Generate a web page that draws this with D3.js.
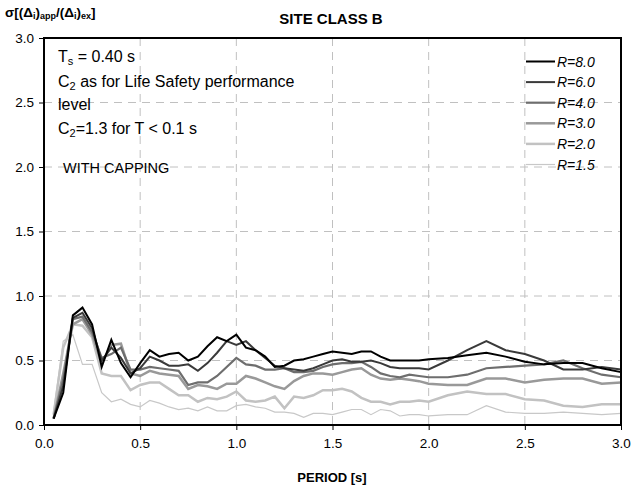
<!DOCTYPE html>
<html><head><meta charset="utf-8">
<script src="https://cdn.jsdelivr.net/npm/d3@7"></script>
<style>body{margin:0;background:#fff}svg{font-family:"Liberation Sans",Arial,sans-serif}</style>
</head><body><svg id="c" width="642" height="493"></svg>
<script>
const periods = [0.05,0.1,0.15,0.2,0.25,0.3,0.35,0.4,0.45,0.5,0.55,0.6,0.65,0.7,0.75,0.8,0.85,0.9,0.95,1.0,
1.05,1.1,1.15,1.2,1.25,1.3,1.35,1.4,1.45,1.5,1.55,1.6,1.65,1.7,1.75,1.8,1.85,1.9,1.95,2.0,
2.1,2.2,2.3,2.4,2.5,2.6,2.7,2.8,2.9,3.0];
const seriesNames = ["R=8.0","R=6.0","R=4.0","R=3.0","R=2.0","R=1.5"];
const r80 = [0.05,0.25,0.85,0.91,0.78,0.45,0.66,0.48,0.37,0.48,0.58,0.53,0.55,0.56,0.50,0.53,0.61,0.68,0.65,0.70,
0.60,0.58,0.53,0.45,0.46,0.50,0.51,0.53,0.55,0.57,0.56,0.55,0.57,0.57,0.53,0.50,0.50,0.50,0.50,0.51,
0.52,0.54,0.56,0.53,0.49,0.47,0.48,0.48,0.44,0.41];
const r60 = [0.05,0.30,0.83,0.87,0.75,0.50,0.60,0.52,0.40,0.44,0.53,0.50,0.46,0.46,0.47,0.42,0.48,0.56,0.65,0.62,
0.65,0.58,0.52,0.46,0.44,0.43,0.42,0.44,0.47,0.50,0.51,0.49,0.49,0.50,0.48,0.45,0.44,0.44,0.44,0.43,
0.50,0.58,0.65,0.58,0.55,0.50,0.43,0.43,0.45,0.43];
const r40 = [0.05,0.35,0.82,0.84,0.72,0.52,0.55,0.60,0.43,0.43,0.45,0.44,0.43,0.42,0.31,0.33,0.33,0.38,0.45,0.52,
0.47,0.46,0.43,0.43,0.44,0.41,0.41,0.42,0.45,0.47,0.48,0.48,0.49,0.45,0.40,0.38,0.37,0.39,0.38,0.37,
0.37,0.39,0.44,0.45,0.46,0.47,0.50,0.44,0.39,0.37];
const r30 = [0.05,0.40,0.78,0.82,0.70,0.48,0.62,0.63,0.40,0.38,0.42,0.40,0.39,0.38,0.28,0.31,0.30,0.28,0.32,0.32,
0.38,0.36,0.33,0.30,0.28,0.34,0.38,0.40,0.40,0.39,0.41,0.43,0.44,0.39,0.36,0.35,0.36,0.35,0.34,0.32,
0.31,0.31,0.36,0.36,0.33,0.35,0.36,0.36,0.32,0.33];
const r20 = [0.08,0.60,0.78,0.77,0.68,0.40,0.38,0.38,0.27,0.31,0.33,0.33,0.28,0.23,0.23,0.18,0.21,0.20,0.22,0.26,
0.19,0.18,0.19,0.22,0.13,0.22,0.21,0.23,0.27,0.27,0.28,0.26,0.21,0.18,0.18,0.16,0.18,0.18,0.19,0.18,
0.23,0.26,0.24,0.24,0.20,0.19,0.15,0.14,0.16,0.16];
const r15 = [0.10,0.65,0.70,0.47,0.47,0.25,0.18,0.20,0.16,0.14,0.19,0.17,0.14,0.12,0.13,0.11,0.14,0.11,0.11,0.15,
0.16,0.14,0.13,0.10,0.10,0.09,0.06,0.09,0.09,0.08,0.10,0.12,0.12,0.08,0.12,0.11,0.07,0.08,0.08,0.07,
0.08,0.08,0.15,0.10,0.09,0.09,0.10,0.09,0.08,0.09];
const xTicks = [0,0.5,1.0,1.5,2.0,2.5,3.0];
const yTicks = [0,0.5,1.0,1.5,2.0,2.5,3.0];
const annotations = ["C\u2082 as for Life Safety performance","level","C\u2082=1.3 for T < 0.1 s"];

const allSeries = [r80,r60,r40,r30,r20,r15];
const colors = ["#000000","#3a3a3a","#6e6e6e","#999999","#c2c2c2","#c8c8c8"];
const widths = [2,2,2.2,2.5,2.5,1.2];

const svg = d3.select("#c");
const L=44,R=621,T=38,B=425;
const x = d3.scaleLinear().domain([0,3]).range([L,R]);
const y = d3.scaleLinear().domain([0,3]).range([B,T]);

// grid
const g = svg.append("g");
g.selectAll(".vg").data(xTicks.slice(1,-1)).join("line")
 .attr("x1",d=>x(d)).attr("x2",d=>x(d)).attr("y1",T).attr("y2",B)
 .attr("stroke","#c0c0c0").attr("stroke-dasharray","8,6").attr("stroke-width",1);
g.selectAll(".hg").data(yTicks.slice(1,-1)).join("line")
 .attr("y1",d=>y(d)).attr("y2",d=>y(d)).attr("x1",L).attr("x2",R)
 .attr("stroke","#c0c0c0").attr("stroke-dasharray","8,6").attr("stroke-width",1);

// axes
const xa = svg.append("g").attr("transform",`translate(0,${B})`)
 .call(d3.axisBottom(x).tickValues(xTicks).tickFormat(d3.format(".1f")).tickSize(5).tickPadding(8));
const ya = svg.append("g").attr("transform",`translate(${L},0)`)
 .call(d3.axisLeft(y).tickValues(yTicks).tickFormat(d3.format(".1f")).tickSize(5).tickPadding(5));
[xa,ya].forEach(a=>{a.select(".domain").remove();
 a.selectAll("text").attr("font-size",13.5).attr("fill","#000").attr("font-family","Liberation Sans, Arial, sans-serif");
 a.selectAll("line").attr("stroke","#000");});

// lines
const line = d3.line().x((d,i)=>x(periods[i])).y(d=>y(d));
const order=[5,4,3,2,1,0];
order.forEach(k=>{
 svg.append("path").datum(allSeries[k]).attr("d",line).attr("fill","none")
  .attr("stroke",colors[k]).attr("stroke-width",widths[k]).attr("stroke-linejoin","miter");
});

// frame
svg.append("rect").attr("x",L).attr("y",T).attr("width",R-L).attr("height",B-T)
 .attr("fill","none").attr("stroke","#000").attr("stroke-width",2);

// legend
const lg = svg.append("g");
seriesNames.forEach((n,i)=>{
 const yy=61.5+i*20.6;
 lg.append("line").attr("x1",526).attr("x2",555).attr("y1",yy).attr("y2",yy)
  .attr("stroke",colors[i]).attr("stroke-width",widths[i]);
 lg.append("text").attr("x",557).attr("y",yy+5).attr("font-size",14).attr("font-style","italic").text(n);
});

// annotations
const ts = svg.append("text").attr("x",58).attr("y",62).attr("font-size",16);
ts.append("tspan").text("T");
ts.append("tspan").attr("font-size",11).attr("dy",3).text("s");
ts.append("tspan").attr("dy",-3).text(" = 0.40 s");
[[annotations[0],87],[annotations[1],110],[annotations[2],134]].forEach(([t,yy],i)=>{
 const te=svg.append("text").attr("x",58).attr("y",yy).attr("font-size",16);
 if(t.indexOf("\u2082")>=0){
  const parts=t.split("\u2082");
  te.append("tspan").text(parts[0]);
  te.append("tspan").attr("font-size",11).attr("dy",3).text("2");
  te.append("tspan").attr("dy",-3).text(parts[1]);
 } else te.text(t);
});
svg.append("text").attr("x",63).attr("y",173).attr("font-size",14.5).text("WITH CAPPING");

// title and labels
svg.append("text").attr("x",331).attr("y",24).attr("text-anchor","middle").attr("font-size",15)
 .attr("font-weight","bold").text("SITE CLASS B");
svg.append("text").attr("x",332).attr("y",482).attr("text-anchor","middle").attr("font-size",13)
 .attr("font-weight","bold").text("PERIOD [s]");
const yl = svg.append("text").attr("x",5).attr("y",17).attr("font-size",13.5).attr("font-weight","bold");
yl.append("tspan").text("\u03c3[(\u0394");
yl.append("tspan").attr("font-size",9).attr("dy",2).text("i");
yl.append("tspan").attr("dy",-2).text(")");
yl.append("tspan").attr("font-size",9).attr("dy",2).text("app");
yl.append("tspan").attr("dy",-2).text("/(\u0394");
yl.append("tspan").attr("font-size",9).attr("dy",2).text("i");
yl.append("tspan").attr("dy",-2).text(")");
yl.append("tspan").attr("font-size",9).attr("dy",2).text("ex");
yl.append("tspan").attr("dy",-2).text("]");
</script></body></html>
